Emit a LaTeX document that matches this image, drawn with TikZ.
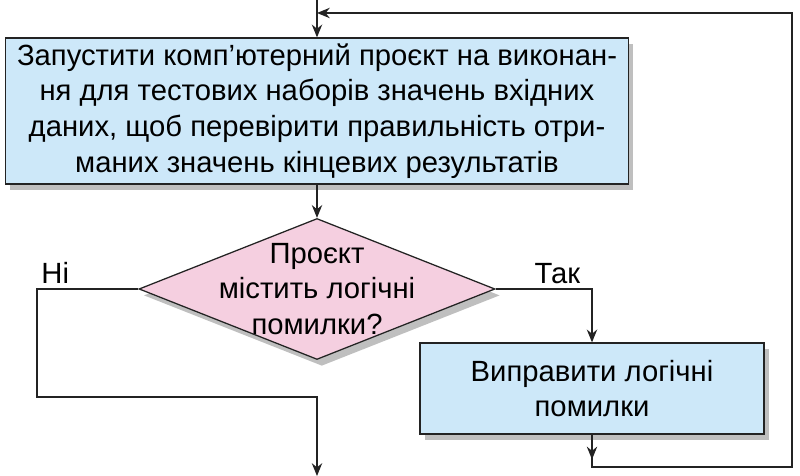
\documentclass[tikz,border=0pt]{standalone}
\usepackage{fontspec}
\setmainfont{Liberation Sans}
\usepackage{xcolor}
\usetikzlibrary{shapes.geometric,arrows.meta,shadows}

\definecolor{boxblue}{RGB}{205,232,249}
\definecolor{decpink}{RGB}{245,207,224}
\definecolor{edge}{RGB}{35,35,35}

\begin{document}
\begin{tikzpicture}[
    box/.style={rectangle, draw=edge, line width=0.9pt, fill=boxblue, align=center,
                font=\fontsize{20.8}{25.5}\selectfont,
                drop shadow={shadow xshift=0.12cm, shadow yshift=-0.16cm, fill=black, opacity=0.25}},
    decision/.style={diamond, draw=edge, line width=0.9pt, fill=decpink, inner sep=0pt,
                minimum width=8.9cm, minimum height=3.525cm,
                drop shadow={shadow xshift=0.12cm, shadow yshift=-0.16cm, fill=black, opacity=0.25}},
    line/.style={line width=0.9pt, edge},
    arrow/.style={line, -{Stealth[length=3.2mm, width=2.6mm]}},
    tag/.style={font=\fontsize{20.8}{25.5}\selectfont, text=black}
]
    \useasboundingbox (0,0) rectangle (20,11.9);

    % Test run
    \node[box, minimum width=15.575cm, minimum height=3.65cm] (task) at (7.925, 9.125)
        {Запустити комп’ютерний проєкт на виконан-\\ня для тестових наборів значень вхідних\\даних, щоб перевірити правильність отри-\\маних значень кінцевих результатів};

    % Decision
    \node[decision] (dec) at (7.925, 4.675) {};
    \node[tag, align=center] (dectext) at (dec) {Проєкт\\містить логічні\\помилки?};

    % Fix errors
    \node[box, minimum width=8.6cm, minimum height=2.275cm] (fix) at (14.8, 2.1875)
        {Виправити логічні\\помилки};

    % Helper points
    \coordinate (entry) at (7.925, 11.9);
    \coordinate (join) at (7.925, 11.575);
    \coordinate (bend) at (19.8, 0.225);
    \coordinate (no) at (0.925, 1.975);
    \coordinate (exit) at (7.925, 0);

    % Arrows
    \draw[arrow] (entry) -- (task.north);
    \draw[arrow] (task.south) -- (dec.north);
    \draw[arrow] (dec.east) -| node[tag, above, pos=0.32] {Так} (fix.north);
    \draw[arrow] (dec.west) -| node[tag, above, pos=0.41] {Ні} (no) -| (exit);
    \draw[arrow] (fix.south) -- ++(0,-0.62);
    \draw[arrow] (fix.south) |- (bend) |- (join);
\end{tikzpicture}
\end{document}
